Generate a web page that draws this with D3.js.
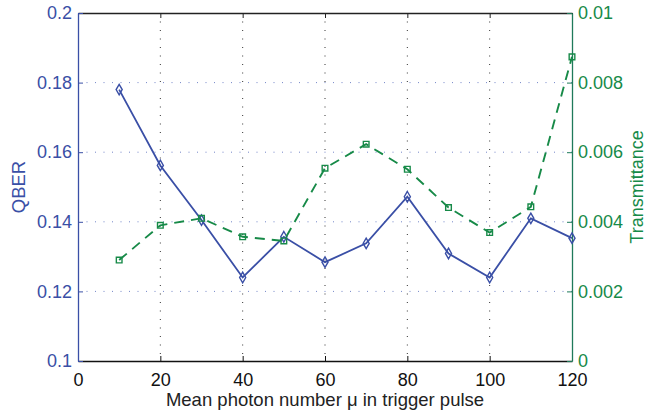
<!DOCTYPE html>
<html>
<head>
<meta charset="utf-8">
<script src="https://cdn.jsdelivr.net/npm/d3@7"></script>
<style>
  body { margin: 0; background: #fff; }
  svg { display: block; font-family: "Liberation Sans", Arial, sans-serif; }
</style>
</head>
<body>
<svg id="chart" width="647" height="416"></svg>
<script>
// mean photon number in trigger pulse
const mu = [10, 20, 30, 40, 50, 60, 70, 80, 90, 100, 110, 120];
const qber = [0.178, 0.1562, 0.1405, 0.124, 0.1357, 0.1284, 0.1338, 0.1472, 0.1309, 0.124, 0.141, 0.1353];
const transmittance = [0.0029, 0.0039, 0.0041, 0.00357, 0.00345, 0.00554, 0.00623, 0.00551, 0.00441, 0.00369, 0.00443, 0.00874];

const xTicks = [0, 20, 40, 60, 80, 100, 120];
const qberTicks = [0.1, 0.12, 0.14, 0.16, 0.18, 0.2];
const transTicks = [0, 0.002, 0.004, 0.006, 0.008, 0.01];

const blue = '#3a4fa6';
const green = '#178a48';
const greenAxis = '#1f7a5a';

const margin = { left: 78, top: 13, right: 75, bottom: 55 };
const width = 647 - margin.left - margin.right;
const height = 416 - margin.top - margin.bottom;

const svg = d3.select('#chart');
const g = svg.append('g').attr('transform', `translate(${margin.left},${margin.top})`);

const x = d3.scaleLinear().domain([0, 120]).range([0, width]);
const yL = d3.scaleLinear().domain([0.1, 0.2]).range([height, 0]);
const yR = d3.scaleLinear().domain([0, 0.01]).range([height, 0]);

const fmt = (d) => String(+d.toFixed(4));

// grid
g.append('g')
    .selectAll('line')
    .data(xTicks.slice(1, -1))
    .join('line')
    .attr('x1', (d) => x(d))
    .attr('x2', (d) => x(d))
    .attr('y1', 0)
    .attr('y2', height)
    .attr('stroke', '#333')
    .attr('stroke-width', 1)
    .attr('stroke-dasharray', '1,7.5');

g.append('g')
    .selectAll('line')
    .data(qberTicks.slice(1, -1))
    .join('line')
    .attr('x1', 0)
    .attr('x2', width)
    .attr('y1', (d) => yL(d))
    .attr('y2', (d) => yL(d))
    .attr('stroke', '#7486c8')
    .attr('stroke-width', 1)
    .attr('stroke-dasharray', '1,7.5');

// axes
const styleAxis = (sel, color) => {
    sel.selectAll('path').attr('stroke', color).attr('stroke-width', 1.3);
    sel.selectAll('line').attr('stroke', color);
    sel.selectAll('text').attr('fill', color).attr('font-size', 18).attr('font-family', null);
};

const xAxis = g.append('g')
    .attr('transform', `translate(0,${height})`)
    .call(d3.axisBottom(x).tickValues(xTicks).tickFormat(fmt).tickSizeInner(-5).tickSizeOuter(0).tickPadding(12));
styleAxis(xAxis, '#111');

const topAxis = g.append('g')
    .call(d3.axisTop(x).tickValues(xTicks).tickFormat('').tickSizeInner(-5).tickSizeOuter(0));
styleAxis(topAxis, '#222');

const leftAxis = g.append('g')
    .call(d3.axisLeft(yL).tickValues(qberTicks).tickFormat(fmt).tickSizeInner(-5).tickSizeOuter(0).tickPadding(6));
styleAxis(leftAxis, blue);

const rightAxis = g.append('g')
    .attr('transform', `translate(${width},0)`)
    .call(d3.axisRight(yR).tickValues(transTicks).tickFormat(fmt).tickSizeInner(-5).tickSizeOuter(0).tickPadding(6));
styleAxis(rightAxis, greenAxis);
rightAxis.selectAll('text').attr('fill', green);

// QBER series
g.append('path')
    .datum(mu)
    .attr('fill', 'none')
    .attr('stroke', blue)
    .attr('stroke-width', 1.8)
    .attr('d', d3.line().x((d) => x(d)).y((d, i) => yL(qber[i])));

g.append('g')
    .selectAll('path')
    .data(mu)
    .join('path')
    .attr('transform', (d, i) => `translate(${x(d)},${yL(qber[i])})`)
    .attr('d', d3.symbol(d3.symbolDiamond, 32))
    .attr('fill', 'none')
    .attr('stroke', blue)
    .attr('stroke-width', 1.4);

// Transmittance series
g.append('path')
    .datum(mu)
    .attr('fill', 'none')
    .attr('stroke', green)
    .attr('stroke-width', 1.9)
    .attr('stroke-dasharray', '10,7')
    .attr('d', d3.line().x((d) => x(d)).y((d, i) => yR(transmittance[i])));

g.append('g')
    .selectAll('path')
    .data(mu)
    .join('path')
    .attr('transform', (d, i) => `translate(${x(d)},${yR(transmittance[i])})`)
    .attr('d', d3.symbol(d3.symbolSquare, 32))
    .attr('fill', 'none')
    .attr('stroke', green)
    .attr('stroke-width', 1.4);

// labels
svg.append('text')
    .attr('x', margin.left + width / 2)
    .attr('y', 406)
    .attr('text-anchor', 'middle')
    .attr('font-size', 18.5)
    .attr('fill', '#222')
    .text('Mean photon number μ in trigger pulse');

svg.append('text')
    .attr('transform', `translate(25,${margin.top + height / 2}) rotate(-90)`)
    .attr('text-anchor', 'middle')
    .attr('font-size', 18.5)
    .attr('fill', blue)
    .text('QBER');

svg.append('text')
    .attr('transform', `translate(643,${margin.top + height / 2}) rotate(-90)`)
    .attr('text-anchor', 'middle')
    .attr('font-size', 18)
    .attr('fill', green)
    .text('Transmittance');
</script>
</body>
</html>
